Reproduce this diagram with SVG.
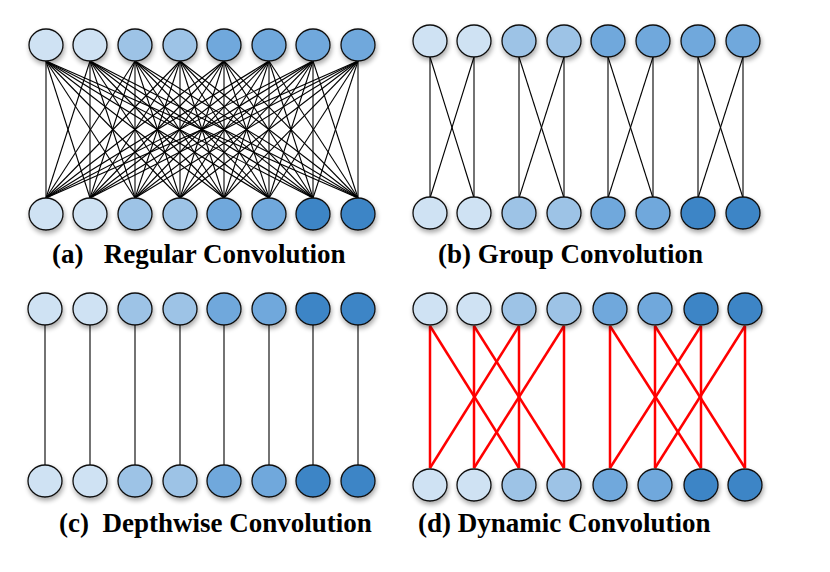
<svg xmlns="http://www.w3.org/2000/svg" width="830" height="572" viewBox="0 0 830 572">
<defs>
<filter id="sh" x="-50%" y="-50%" width="200%" height="200%"><feGaussianBlur in="SourceAlpha" stdDeviation="2.5"/><feOffset dx="1" dy="3"/><feComponentTransfer><feFuncA type="linear" slope="0.35"/></feComponentTransfer><feMerge><feMergeNode/><feMergeNode in="SourceGraphic"/></feMerge></filter>
</defs>
<style>
ellipse{stroke:#111;stroke-width:1.3;filter:url(#sh)}
.c1{fill:#cfe2f3}.c2{fill:#9dc3e6}.c3{fill:#6fa8dc}.c4{fill:#3d85c6}
.k line{stroke:#000;stroke-width:1.1}
.r line{stroke:#f00;stroke-width:2.5}
text{font-family:"Liberation Serif","Times New Roman",serif;font-weight:bold;font-size:27px;fill:#000}
</style>
<g id="connectors">
<g class="k">
<line x1="46" y1="61" x2="46" y2="198"/><line x1="46" y1="61" x2="90" y2="198"/><line x1="46" y1="61" x2="135" y2="198"/><line x1="46" y1="61" x2="180" y2="198"/><line x1="46" y1="61" x2="224" y2="198"/><line x1="46" y1="61" x2="269" y2="198"/><line x1="46" y1="61" x2="313" y2="198"/><line x1="46" y1="61" x2="358" y2="198"/>
<line x1="90" y1="61" x2="46" y2="198"/><line x1="90" y1="61" x2="90" y2="198"/><line x1="90" y1="61" x2="135" y2="198"/><line x1="90" y1="61" x2="180" y2="198"/><line x1="90" y1="61" x2="224" y2="198"/><line x1="90" y1="61" x2="269" y2="198"/><line x1="90" y1="61" x2="313" y2="198"/><line x1="90" y1="61" x2="358" y2="198"/>
<line x1="135" y1="61" x2="46" y2="198"/><line x1="135" y1="61" x2="90" y2="198"/><line x1="135" y1="61" x2="135" y2="198"/><line x1="135" y1="61" x2="180" y2="198"/><line x1="135" y1="61" x2="224" y2="198"/><line x1="135" y1="61" x2="269" y2="198"/><line x1="135" y1="61" x2="313" y2="198"/><line x1="135" y1="61" x2="358" y2="198"/>
<line x1="180" y1="61" x2="46" y2="198"/><line x1="180" y1="61" x2="90" y2="198"/><line x1="180" y1="61" x2="135" y2="198"/><line x1="180" y1="61" x2="180" y2="198"/><line x1="180" y1="61" x2="224" y2="198"/><line x1="180" y1="61" x2="269" y2="198"/><line x1="180" y1="61" x2="313" y2="198"/><line x1="180" y1="61" x2="358" y2="198"/>
<line x1="224" y1="61" x2="46" y2="198"/><line x1="224" y1="61" x2="90" y2="198"/><line x1="224" y1="61" x2="135" y2="198"/><line x1="224" y1="61" x2="180" y2="198"/><line x1="224" y1="61" x2="224" y2="198"/><line x1="224" y1="61" x2="269" y2="198"/><line x1="224" y1="61" x2="313" y2="198"/><line x1="224" y1="61" x2="358" y2="198"/>
<line x1="269" y1="61" x2="46" y2="198"/><line x1="269" y1="61" x2="90" y2="198"/><line x1="269" y1="61" x2="135" y2="198"/><line x1="269" y1="61" x2="180" y2="198"/><line x1="269" y1="61" x2="224" y2="198"/><line x1="269" y1="61" x2="269" y2="198"/><line x1="269" y1="61" x2="313" y2="198"/><line x1="269" y1="61" x2="358" y2="198"/>
<line x1="313" y1="61" x2="46" y2="198"/><line x1="313" y1="61" x2="90" y2="198"/><line x1="313" y1="61" x2="135" y2="198"/><line x1="313" y1="61" x2="180" y2="198"/><line x1="313" y1="61" x2="224" y2="198"/><line x1="313" y1="61" x2="269" y2="198"/><line x1="313" y1="61" x2="313" y2="198"/><line x1="313" y1="61" x2="358" y2="198"/>
<line x1="358" y1="61" x2="46" y2="198"/><line x1="358" y1="61" x2="90" y2="198"/><line x1="358" y1="61" x2="135" y2="198"/><line x1="358" y1="61" x2="180" y2="198"/><line x1="358" y1="61" x2="224" y2="198"/><line x1="358" y1="61" x2="269" y2="198"/><line x1="358" y1="61" x2="313" y2="198"/><line x1="358" y1="61" x2="358" y2="198"/>
<line x1="430" y1="57" x2="430" y2="198"/><line x1="430" y1="57" x2="474" y2="198"/><line x1="474" y1="57" x2="430" y2="198"/><line x1="474" y1="57" x2="474" y2="198"/>
<line x1="519" y1="57" x2="519" y2="198"/><line x1="519" y1="57" x2="564" y2="198"/><line x1="564" y1="57" x2="519" y2="198"/><line x1="564" y1="57" x2="564" y2="198"/>
<line x1="608" y1="57" x2="608" y2="198"/><line x1="608" y1="57" x2="653" y2="198"/><line x1="653" y1="57" x2="608" y2="198"/><line x1="653" y1="57" x2="653" y2="198"/>
<line x1="698" y1="57" x2="698" y2="198"/><line x1="698" y1="57" x2="743" y2="198"/><line x1="743" y1="57" x2="698" y2="198"/><line x1="743" y1="57" x2="743" y2="198"/>
<line x1="45" y1="325" x2="45" y2="465"/><line x1="90" y1="325" x2="90" y2="465"/><line x1="135" y1="325" x2="135" y2="465"/><line x1="180" y1="325" x2="180" y2="465"/><line x1="224" y1="325" x2="224" y2="465"/><line x1="269" y1="325" x2="269" y2="465"/><line x1="313" y1="325" x2="313" y2="465"/><line x1="358" y1="325" x2="358" y2="465"/>
</g>
<g class="r">
<line x1="430" y1="326" x2="430" y2="468"/><line x1="430" y1="326" x2="519" y2="468"/><line x1="474" y1="326" x2="474" y2="468"/><line x1="474" y1="326" x2="564" y2="468"/>
<line x1="519" y1="326" x2="430" y2="468"/><line x1="519" y1="326" x2="519" y2="468"/><line x1="564" y1="326" x2="474" y2="468"/><line x1="564" y1="326" x2="564" y2="468"/>
<line x1="610" y1="326" x2="610" y2="468"/><line x1="610" y1="326" x2="701" y2="468"/><line x1="655" y1="326" x2="655" y2="468"/><line x1="655" y1="326" x2="745" y2="468"/>
<line x1="701" y1="326" x2="610" y2="468"/><line x1="701" y1="326" x2="701" y2="468"/><line x1="745" y1="326" x2="655" y2="468"/><line x1="745" y1="326" x2="745" y2="468"/>
</g>
</g>
<g id="nodes-a">
<ellipse class="c1" cx="46" cy="45" rx="17" ry="16"/><ellipse class="c1" cx="90" cy="45" rx="17" ry="16"/><ellipse class="c2" cx="135" cy="45" rx="17" ry="16"/><ellipse class="c2" cx="180" cy="45" rx="17" ry="16"/><ellipse class="c3" cx="224" cy="45" rx="17" ry="16"/><ellipse class="c3" cx="269" cy="45" rx="17" ry="16"/><ellipse class="c3" cx="313" cy="45" rx="17" ry="16"/><ellipse class="c3" cx="358" cy="45" rx="17" ry="16"/>
<ellipse class="c1" cx="46" cy="214" rx="17" ry="16"/><ellipse class="c1" cx="90" cy="214" rx="17" ry="16"/><ellipse class="c2" cx="135" cy="214" rx="17" ry="16"/><ellipse class="c2" cx="180" cy="214" rx="17" ry="16"/><ellipse class="c3" cx="224" cy="214" rx="17" ry="16"/><ellipse class="c3" cx="269" cy="214" rx="17" ry="16"/><ellipse class="c4" cx="313" cy="214" rx="17" ry="16"/><ellipse class="c4" cx="358" cy="214" rx="17" ry="16"/>
</g>
<g id="nodes-b">
<ellipse class="c1" cx="430" cy="41" rx="17" ry="16"/><ellipse class="c1" cx="474" cy="41" rx="17" ry="16"/><ellipse class="c2" cx="519" cy="41" rx="17" ry="16"/><ellipse class="c2" cx="564" cy="41" rx="17" ry="16"/><ellipse class="c3" cx="608" cy="41" rx="17" ry="16"/><ellipse class="c3" cx="653" cy="41" rx="17" ry="16"/><ellipse class="c3" cx="698" cy="41" rx="17" ry="16"/><ellipse class="c3" cx="743" cy="41" rx="17" ry="16"/>
<ellipse class="c1" cx="430" cy="213" rx="17" ry="16"/><ellipse class="c1" cx="474" cy="213" rx="17" ry="16"/><ellipse class="c2" cx="519" cy="213" rx="17" ry="16"/><ellipse class="c2" cx="564" cy="213" rx="17" ry="16"/><ellipse class="c3" cx="608" cy="213" rx="17" ry="16"/><ellipse class="c3" cx="653" cy="213" rx="17" ry="16"/><ellipse class="c4" cx="698" cy="213" rx="17" ry="16"/><ellipse class="c4" cx="743" cy="213" rx="17" ry="16"/>
</g>
<g id="nodes-c">
<ellipse class="c1" cx="45" cy="309" rx="17" ry="16"/><ellipse class="c1" cx="90" cy="309" rx="17" ry="16"/><ellipse class="c2" cx="135" cy="309" rx="17" ry="16"/><ellipse class="c2" cx="180" cy="309" rx="17" ry="16"/><ellipse class="c3" cx="224" cy="309" rx="17" ry="16"/><ellipse class="c3" cx="269" cy="309" rx="17" ry="16"/><ellipse class="c4" cx="313" cy="309" rx="17" ry="16"/><ellipse class="c4" cx="358" cy="309" rx="17" ry="16"/>
<ellipse class="c1" cx="45" cy="481" rx="17" ry="16"/><ellipse class="c1" cx="90" cy="481" rx="17" ry="16"/><ellipse class="c2" cx="135" cy="481" rx="17" ry="16"/><ellipse class="c2" cx="180" cy="481" rx="17" ry="16"/><ellipse class="c3" cx="224" cy="481" rx="17" ry="16"/><ellipse class="c3" cx="269" cy="481" rx="17" ry="16"/><ellipse class="c4" cx="313" cy="481" rx="17" ry="16"/><ellipse class="c4" cx="358" cy="481" rx="17" ry="16"/>
</g>
<g id="nodes-d">
<ellipse class="c1" cx="430" cy="309" rx="17" ry="16"/><ellipse class="c1" cx="474" cy="309" rx="17" ry="16"/><ellipse class="c2" cx="519" cy="309" rx="17" ry="16"/><ellipse class="c2" cx="564" cy="309" rx="17" ry="16"/><ellipse class="c3" cx="610" cy="309" rx="17" ry="16"/><ellipse class="c3" cx="655" cy="309" rx="17" ry="16"/><ellipse class="c4" cx="701" cy="309" rx="17" ry="16"/><ellipse class="c4" cx="745" cy="309" rx="17" ry="16"/>
<ellipse class="c1" cx="430" cy="485" rx="17" ry="16"/><ellipse class="c1" cx="474" cy="485" rx="17" ry="16"/><ellipse class="c2" cx="519" cy="485" rx="17" ry="16"/><ellipse class="c2" cx="564" cy="485" rx="17" ry="16"/><ellipse class="c3" cx="610" cy="485" rx="17" ry="16"/><ellipse class="c3" cx="655" cy="485" rx="17" ry="16"/><ellipse class="c4" cx="701" cy="485" rx="17" ry="16"/><ellipse class="c4" cx="745" cy="485" rx="17" ry="16"/>
</g>
<g id="labels">
<text x="52" y="263" xml:space="preserve">(a)   Regular Convolution</text>
<text x="438" y="263">(b) Group Convolution</text>
<text x="59" y="532" xml:space="preserve">(c)  Depthwise Convolution</text>
<text x="418" y="532">(d) Dynamic Convolution</text>
</g>
</svg>
